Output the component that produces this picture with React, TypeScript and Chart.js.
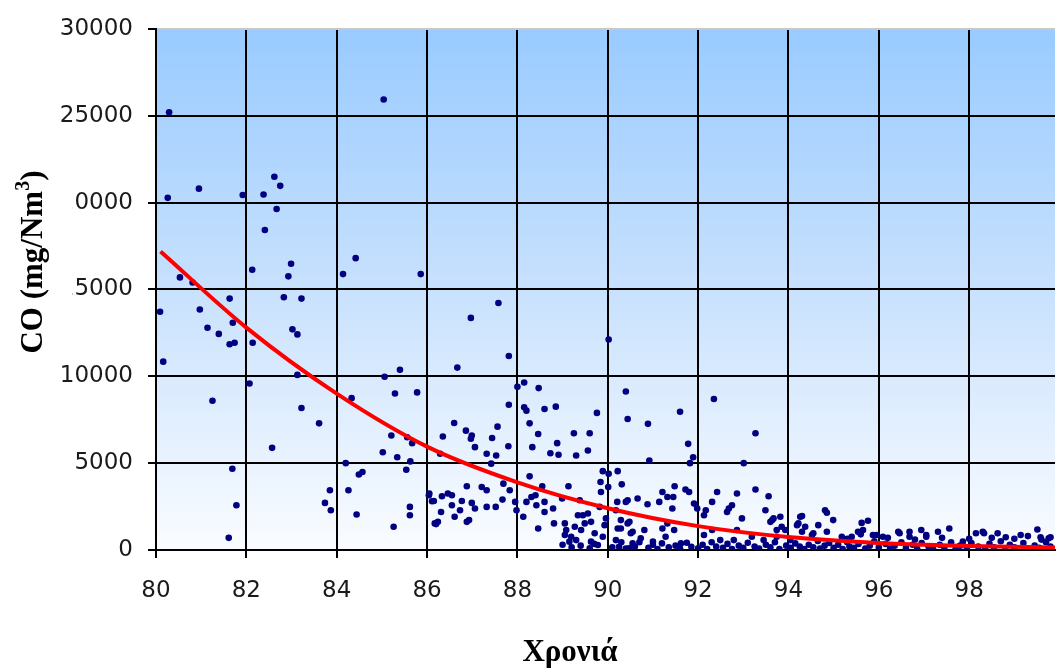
import React, { useEffect, useRef } from "react";
import { Chart, registerables } from "chart.js";

Chart.register(...registerables);

// ---- Data ----
const years: number[] = [
  80.29, 80.26, 80.95, 81.92, 82.38, 82.62, 82.75, 82.67, 82.41, 85.04,
  80.53, 80.81, 82.13, 82.99, 82.93, 84.14, 84.42, 85.86, 81.63, 82.83,
  83.22, 80.09, 80.97, 81.14, 81.39, 81.63, 81.74, 81.70, 82.14, 83.02,
  83.13, 80.16, 82.07, 83.13, 81.25, 83.22, 83.61, 82.57, 81.69, 81.78,
  81.61, 84.33, 85.06, 85.40, 85.29, 85.78, 85.21, 85.56, 85.67, 85.02,
  85.34, 85.63, 85.54, 84.20, 84.49, 84.57, 83.85, 84.26, 83.74, 83.87,
  84.44, 85.26, 85.62, 85.62, 86.04, 86.11, 86.20,
  87.58, 86.97, 86.67, 87.81, 90.02, 88.00, 88.15, 88.47, 87.81, 88.15,
  88.20, 88.60, 88.85, 89.76, 90.40, 90.44, 90.89, 91.60, 92.35, 86.60,
  86.86, 86.99, 86.97, 87.56, 87.44, 87.06, 87.80, 87.32, 87.53, 87.42,
  86.35, 86.29, 88.27, 88.46, 88.33, 88.73, 88.88, 88.91, 89.25, 89.60,
  89.56, 89.30, 90.92, 91.78, 91.89, 91.82,
  88.27, 89.13, 88.55, 89.89, 90.02, 90.22, 89.84, 90.31, 89.85, 90.01,
  86.88, 87.21, 87.32, 87.69, 87.83, 87.67, 86.05, 86.15, 86.33, 86.46,
  86.55, 86.55, 86.77, 86.99, 87.06, 86.73, 86.61, 86.31, 86.24, 86.17,
  86.88, 86.93, 87.32, 87.52, 87.95, 87.98, 88.13, 88.20, 88.31, 88.40,
  88.42, 88.60, 88.60, 88.79, 88.46, 88.81, 88.99, 89.05, 89.08, 89.19,
  89.30, 89.41, 89.49, 89.34, 89.56, 89.63, 89.71, 89.63, 89.78, 89.89,
  89.93, 89.96, 89.15, 89.05, 89.27, 89.45, 89.82, 89.38, 90.18, 90.22,
  90.29, 90.18, 90.25, 90.44, 90.55, 90.47, 90.40, 90.21,
  93.01, 91.48, 91.21, 91.72, 91.80, 92.42, 92.86, 93.27, 93.56, 90.44,
  90.66, 90.88, 91.14, 91.32, 91.45, 91.43, 91.91, 91.98, 92.17, 92.31,
  92.13, 92.64, 92.75, 92.97, 93.49, 93.67, 93.82, 93.85, 93.60, 94.26,
  94.22, 94.66, 94.81, 94.99, 90.29, 90.48, 90.51, 90.81, 90.73, 91.21,
  91.32, 91.47, 91.28, 91.62, 91.00, 90.55, 92.13, 92.31, 92.49, 92.79,
  92.86, 93.19, 93.45, 93.74, 94.04, 94.30, 94.52, 94.85,
  93.27, 92.68, 93.64, 93.74, 93.93, 94.30, 94.19, 94.37, 94.85, 94.55,
  95.18, 95.40, 95.62, 95.76, 95.65, 95.87, 96.09, 96.46, 96.68, 96.94,
  97.05, 97.31, 97.56, 97.86, 98.15, 98.33, 98.63, 98.81, 99.14, 99.51,
  99.58, 99.80, 95.54, 95.95, 96.43, 96.68, 97.05, 98.30, 99.76,
  89.00, 89.20, 89.40, 89.60, 89.70, 90.10, 90.30, 90.40, 90.60, 90.70,
  90.90, 91.00, 91.10, 91.20, 91.35, 91.50, 91.60, 91.75, 91.85, 92.00,
  92.10, 92.20, 92.30, 92.40, 92.55, 92.65, 92.75, 92.90, 93.00, 93.10,
  93.25, 93.35, 93.50, 93.60, 93.70, 93.80, 93.95, 94.05, 94.15, 94.25,
  94.35, 94.45, 94.55, 94.65, 94.70, 94.80, 94.90, 95.00, 95.10, 95.20,
  95.30, 95.35, 95.45, 95.55, 95.70, 95.80, 95.90, 96.00, 96.15, 96.25,
  96.35, 96.50, 96.60, 96.75, 96.85, 96.95, 97.10, 97.20, 97.35, 97.45,
  97.60, 97.70, 97.80, 97.95, 98.05, 98.20, 98.35, 98.45, 98.55, 98.70,
  98.80, 98.90, 99.00, 99.20, 99.30, 99.45, 99.55, 99.70, 99.80,
  95.30, 95.60, 96.20, 96.80, 97.40, 98.00, 98.50, 99.00, 99.30, 99.60,
];

const coValues: number[] = [
  25200, 20270, 20800, 20430, 20460, 21480, 20960, 19630, 18420, 25930,
  15690, 15400, 16130, 16480, 15750, 15880, 16800, 15880, 14470, 14550,
  14470, 13710, 13840, 12790, 12440, 11840, 11930, 13080, 11930, 12700,
  12410, 10840, 9580, 10080, 8590, 8170, 7290, 5880, 4680, 2580,
  700, 8740, 9970, 10370, 9010, 9070, 6590, 6490, 6150, 5630,
  5340, 5100, 4620, 5000, 4350, 4490, 3440, 3440, 2710, 2290,
  2040, 1340, 2480, 2000, 3150, 2810, 1490,
  14220, 13360, 10500, 11170, 12120, 9390, 9640, 9320, 8360, 8210,
  8020, 8120, 8250, 7890, 9120, 7540, 7260, 7960, 8690, 7310,
  6870, 6590, 6400, 7100, 6450, 5920, 5970, 5540, 5440, 4970,
  6530, 5540, 7290, 6680, 5920, 5570, 6150, 5480, 6720, 6720,
  5730, 5440, 5150, 6110, 5340, 5000,
  4240, 3670, 3670, 4540, 4390, 4540, 3910, 3780, 3340, 3630,
  3670, 3630, 3440, 3820, 3440, 2900, 3250, 2820, 3090, 3250,
  3150, 2580, 2820, 2710, 2390, 2290, 1910, 2190, 1620, 1530,
  1620, 1720, 2480, 2480, 2770, 2290, 1910, 2770, 3050, 3150,
  2580, 2770, 2190, 2390, 1240, 1530, 2960, 1530, 1150, 760,
  570, 1150, 1530, 2000, 2100, 1620, 960, 480, 290, 760,
  1430, 1820, 480, 860, 1340, 2000, 2480, 2860, 2290, 1240,
  1720, 570, 190, 1530, 1050, 100, 2770, 2770,
  5000, 3670, 3340, 3480, 3340, 3340, 3250, 3480, 3090, 2860,
  2960, 2630, 2770, 3050, 3050, 2390, 2670, 2390, 2290, 2770,
  2000, 2190, 2580, 1820, 2290, 1820, 1910, 1340, 1620, 1910,
  1530, 1430, 2290, 1720, 1240, 1620, 960, 1150, 670, 1240,
  1530, 1150, 760, 380, 480, 380, 860, 1150, 570, 570,
  1150, 760, 570, 760, 570, 1050, 860, 1050,
  6720, 2390, 1720, 1150, 1150, 1950, 1430, 1340, 2140, 960,
  760, 760, 1560, 1680, 1150, 860, 760, 960, 760, 1150,
  860, 1050, 1240, 480, 960, 960, 960, 730, 860, 1180,
  730, 730, 1050, 860, 1050, 1050, 760, 1050, 670,
  300, 150, 250, 100, 350, 150, 450, 80, 200, 450,
  120, 300, 60, 380, 150, 250, 80, 420, 180, 100,
  300, 60, 450, 200, 120, 350, 60, 250, 120, 420,
  200, 80, 300, 150, 450, 60, 250, 120, 380, 200,
  60, 300, 150, 520, 80, 250, 400, 120, 300, 60,
  450, 200, 120, 350, 80, 250, 500, 150, 350, 80,
  250, 450, 120, 300, 60, 400, 200, 80, 300, 150,
  450, 60, 250, 120, 400, 200, 80, 350, 150, 500,
  60, 300, 150, 400, 80, 250, 120, 450, 200,
  650, 900, 700, 600, 700, 650, 700, 650, 800, 600,
];

// Trend line
const trendYears: number[] = [80.1, 82.0, 84.0, 86.0, 88.0, 90.0, 92.0, 94.0, 96.0, 98.0, 99.9];
const trendValues: number[] = [17180, 12800, 9000, 5950, 3895, 2405, 1375, 745, 400, 230, 140];

const xTickValues: number[] = [80, 82, 84, 86, 88, 90, 92, 94, 96, 98];
const yTickValues: number[] = [0, 5000, 10000, 15000, 20000, 25000, 30000];

const xTitle = "Χρονιά";
const yTitleMain = "CO (mg/Nm";
const yTitleSup = "3";
const yTitleEnd = ")";

const backgroundPlugin = {
  id: "plotBackground",
  beforeDraw(chart: any) {
    const { ctx, chartArea } = chart;
    if (!chartArea) return;
    const { left, top, right, bottom } = chartArea;
    const g = ctx.createLinearGradient(0, top, 0, bottom);
    g.addColorStop(0, "rgb(153,203,255)");
    g.addColorStop(0.5, "rgb(200,225,253)");
    g.addColorStop(1, "rgb(250,252,255)");
    ctx.save();
    ctx.fillStyle = g;
    ctx.fillRect(left, top, right - left, bottom - top);
    ctx.restore();
  },
};

const titlesPlugin = {
  id: "axisTitles",
  afterDraw(chart: any) {
    const ctx = chart.ctx as CanvasRenderingContext2D;
    ctx.save();
    // white box behind the vertical title (hides part of the tick labels, as in the original)
    ctx.fillStyle = "#ffffff";
    ctx.fillRect(0, 163, 72, 200);

    ctx.fillStyle = "#000000";
    const mainFont = 'bold 31px "Liberation Serif", "Times New Roman", serif';
    const supFont = 'bold 20px "Liberation Serif", "Times New Roman", serif';
    ctx.font = mainFont;
    const w1 = ctx.measureText(yTitleMain).width;
    const w3 = ctx.measureText(yTitleEnd).width;
    ctx.font = supFont;
    const w2 = ctx.measureText(yTitleSup).width;
    const total = w1 + w2 + w3;

    ctx.save();
    ctx.translate(42, 262);
    ctx.rotate(-Math.PI / 2);
    ctx.textAlign = "left";
    ctx.textBaseline = "alphabetic";
    const x0 = -total / 2;
    ctx.font = mainFont;
    ctx.fillText(yTitleMain, x0, 0);
    ctx.font = supFont;
    ctx.fillText(yTitleSup, x0 + w1, -13);
    ctx.font = mainFont;
    ctx.fillText(yTitleEnd, x0 + w1 + w2, 0);
    ctx.restore();

    ctx.font = mainFont;
    ctx.textAlign = "center";
    ctx.textBaseline = "alphabetic";
    ctx.fillText(xTitle, 570, 661);
    ctx.restore();
  },
};

export default function App() {
  const canvasRef = useRef<HTMLCanvasElement | null>(null);

  useEffect(() => {
    const canvas = canvasRef.current;
    if (!canvas) return;

    const scatterPoints = years.map((x, i) => ({ x, y: coValues[i] }));
    const trendPoints = trendYears.map((x, i) => ({ x, y: trendValues[i] }));

    const chart = new Chart(canvas, {
      type: "scatter",
      data: {
        datasets: [
          {
            type: "line",
            label: "trend",
            data: trendPoints,
            borderColor: "#ff0000",
            borderWidth: 4,
            pointRadius: 0,
            cubicInterpolationMode: "monotone",
            fill: false,
            order: 0,
          } as any,
          {
            label: "CO",
            data: scatterPoints,
            backgroundColor: "#000080",
            borderColor: "#000080",
            pointRadius: 3.3,
            pointBorderWidth: 0,
            pointStyle: "circle",
            order: 1,
          },
        ],
      },
      options: {
        responsive: false,
        animation: false,
        layout: { padding: { top: 27, left: 0, right: 0, bottom: 0 } },
        plugins: {
          legend: { display: false },
          tooltip: { enabled: false },
          title: { display: false },
        },
        scales: {
          x: {
            type: "linear",
            min: 80,
            max: 99.9,
            afterBuildTicks: (scale: any) => {
              scale.ticks = xTickValues.map((v) => ({ value: v }));
            },
            afterFit: (scale: any) => {
              scale.height = 119;
            },
            ticks: {
              font: { family: '"DejaVu Sans", sans-serif', size: 23 },
              color: "#1a1a1a",
              padding: 19,
              maxRotation: 0,
              autoSkip: false,
            },
            grid: {
              color: "#000000",
              lineWidth: 2,
              drawTicks: true,
              tickLength: 8,
              tickColor: "#000000",
              tickWidth: 2,
            },
            border: { display: true, color: "#000000", width: 2 },
          },
          y: {
            type: "linear",
            min: 0,
            max: 30000,
            afterBuildTicks: (scale: any) => {
              scale.ticks = yTickValues.map((v) => ({ value: v }));
            },
            afterFit: (scale: any) => {
              scale.width = 156;
            },
            ticks: {
              font: { family: '"DejaVu Sans", sans-serif', size: 23 },
              color: "#1a1a1a",
              padding: 15,
              autoSkip: false,
              callback: (v: any) => String(v),
            },
            grid: {
              color: (c: any) => (c.tick && c.tick.value === 30000 ? "#c8c8c8" : "#000000"),
              lineWidth: 2,
              drawTicks: true,
              tickLength: 8,
              tickColor: "#000000",
              tickWidth: 2,
            },
            border: { display: true, color: "#000000", width: 2 },
          },
        },
      },
      plugins: [backgroundPlugin, titlesPlugin],
    });

    return () => {
      chart.destroy();
    };
  }, []);

  return (
    <div style={{ position: "absolute", left: 0, top: 0, width: 1059, height: 669, background: "#ffffff" }}>
      <canvas ref={canvasRef} width={1059} height={669} style={{ display: "block", width: 1059, height: 669 }} />
    </div>
  );
}
